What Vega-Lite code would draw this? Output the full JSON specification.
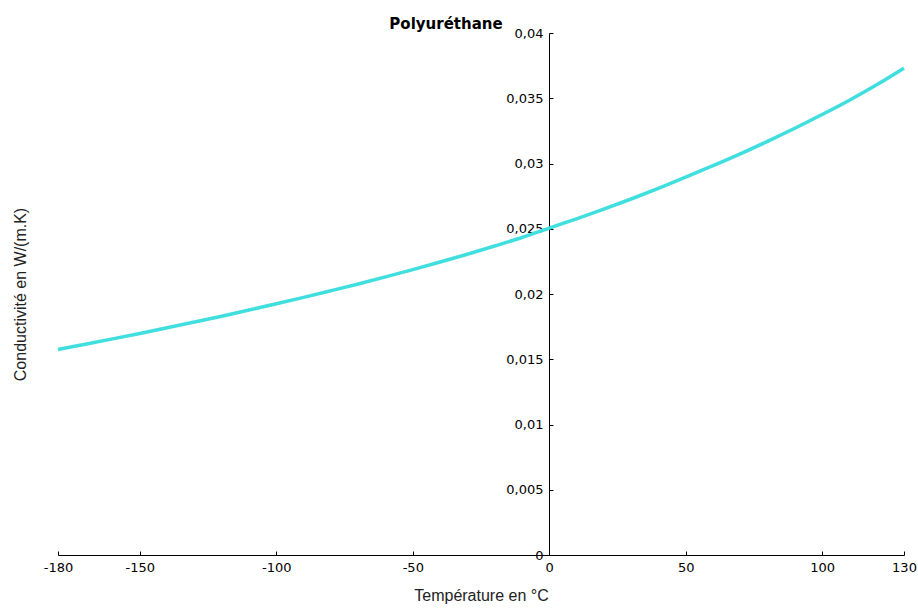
{
  "$schema": "https://vega.github.io/schema/vega-lite/v6.json",
  "width": 846,
  "height": 522,
  "autosize": "none",
  "padding": {"left": 58, "top": 33, "right": 14, "bottom": 57},
  "background": "white",
  "config": {
    "view": {"stroke": null},
    "font": "Liberation Sans"
  },
  "title": {
    "text": "Polyuréthane",
    "fontSize": 15,
    "fontWeight": "bold",
    "font": "DejaVu Sans",
    "color": "black",
    "anchor": "middle",
    "dx": -35,
    "offset": -17,
    "baseline": "alphabetic"
  },
  "data": {
    "values": [
      {"t": -180, "k": 0.01575},
      {"t": -170, "k": 0.01615},
      {"t": -160, "k": 0.01656},
      {"t": -150, "k": 0.01698},
      {"t": -140, "k": 0.01741},
      {"t": -130, "k": 0.01785},
      {"t": -120, "k": 0.01830},
      {"t": -110, "k": 0.01877},
      {"t": -100, "k": 0.01925},
      {"t": -90, "k": 0.01974},
      {"t": -80, "k": 0.02025},
      {"t": -70, "k": 0.02077},
      {"t": -60, "k": 0.02131},
      {"t": -50, "k": 0.02187},
      {"t": -40, "k": 0.02245},
      {"t": -30, "k": 0.02305},
      {"t": -20, "k": 0.02368},
      {"t": -10, "k": 0.02433},
      {"t": 0, "k": 0.02505},
      {"t": 10, "k": 0.02576},
      {"t": 20, "k": 0.02650},
      {"t": 30, "k": 0.02728},
      {"t": 40, "k": 0.02810},
      {"t": 50, "k": 0.02895},
      {"t": 60, "k": 0.02983},
      {"t": 70, "k": 0.03074},
      {"t": 80, "k": 0.03170},
      {"t": 90, "k": 0.03270},
      {"t": 100, "k": 0.03375},
      {"t": 110, "k": 0.03485},
      {"t": 120, "k": 0.03603},
      {"t": 130, "k": 0.03730}
    ]
  },
  "mark": {"type": "line", "color": "#40dede", "strokeWidth": 3.5, "interpolate": "monotone"},
  "encoding": {
    "x": {
      "field": "t",
      "type": "quantitative",
      "scale": {"domain": [-180, 130], "nice": false, "zero": false},
      "axis": {
        "title": "Température en °C",
        "titleFontSize": 16,
        "titleFontWeight": "normal",
        "titleColor": "#222",
        "titlePadding": 13,
        "values": [-180, -150, -100, -50, 0, 50, 100, 130],
        "labelExpr": "toString(datum.value)",
        "labelFont": "DejaVu Sans",
        "labelFontSize": 13,
        "labelColor": "black",
        "labelPadding": 10,
        "labelFlush": false,
        "labelOverlap": false,
        "tickSize": -4,
        "tickColor": "black",
        "domainColor": "black",
        "grid": false
      }
    },
    "y": {
      "field": "k",
      "type": "quantitative",
      "scale": {"domain": [0, 0.04], "nice": false},
      "axis": {
        "title": "Conductivité en W/(m.K)",
        "titleFontSize": 16,
        "titleFontWeight": "normal",
        "titleColor": "#222",
        "titleAngle": -90,
        "titleX": -529,
        "titleY": 261,
        "titleAlign": "center",
        "titleBaseline": "middle",
        "offset": -491,
        "values": [0, 0.005, 0.01, 0.015, 0.02, 0.025, 0.03, 0.035, 0.04],
        "labelExpr": "replace(toString(datum.value), '.', ',')",
        "labelFont": "DejaVu Sans",
        "labelFontSize": 13,
        "labelColor": "black",
        "labelPadding": 10,
        "labelFlush": false,
        "labelOverlap": false,
        "tickSize": -4,
        "tickColor": "black",
        "domainColor": "black",
        "grid": false
      }
    }
  }
}
